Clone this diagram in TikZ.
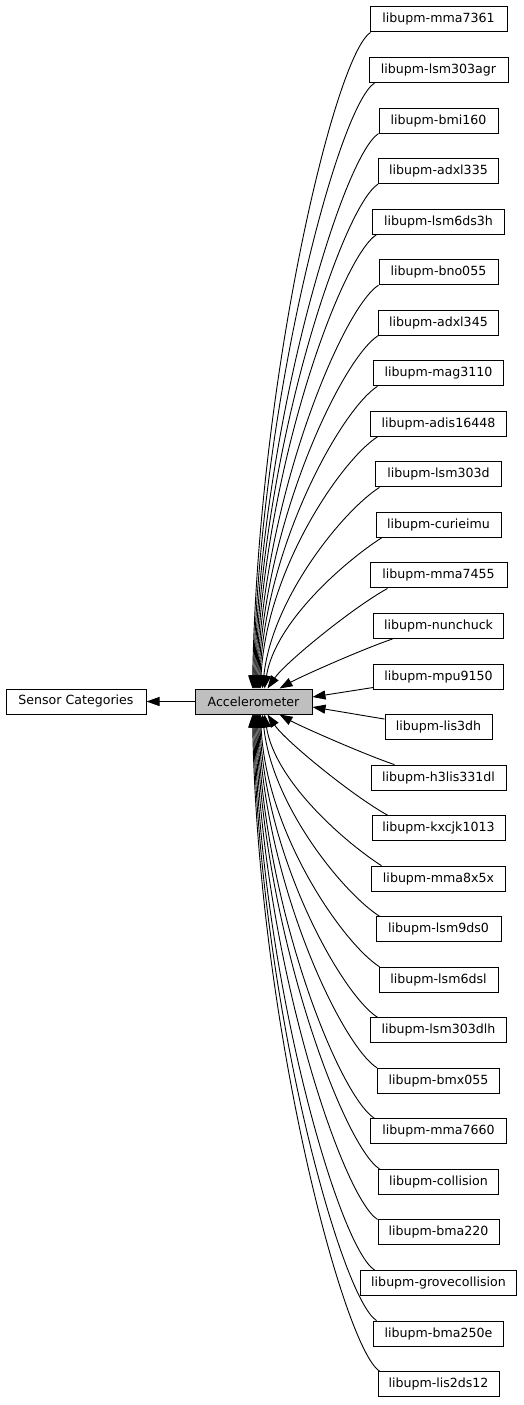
\documentclass[tikz,border=0pt]{standalone}
\usepackage{fontspec}
\setmainfont{DejaVu Sans}
\usetikzlibrary{arrows.meta,calc}
\tikzset{
  nd/.style={draw=black, line width=1pt, fill=white, minimum height=25pt, inner xsep=0pt, inner ysep=0pt, font=\fontsize{12.6}{15}\selectfont, text=black},
  accbox/.style={nd, fill={rgb,255:red,191;green,191;blue,191}},
  edge/.style={draw=black, line width=0.9pt, -{Triangle[length=13pt,width=9pt]}},
}
\begin{document}
\begin{tikzpicture}[x=1pt,y=-1pt]
\useasboundingbox (0,0) rectangle (523,1405);
% left nodes
\node[nd, minimum width=140pt] (sc) at (76,701.5) {Sensor Categories};
\node[accbox, minimum width=117pt] (acc) at (253.5,701.5) {Accelerometer};
% right column
\node[nd, minimum width=137pt] (n1) at (438.5,19.5) {libupm-mma7361};
\node[nd, minimum width=139pt] (n2) at (438.5,70.04) {libupm-lsm303agr};
\node[nd, minimum width=119pt] (n3) at (438.5,120.58) {libupm-bmi160};
\node[nd, minimum width=120pt] (n4) at (438.5,171.12) {libupm-adxl335};
\node[nd, minimum width=132pt] (n5) at (438.5,221.66) {libupm-lsm6ds3h};
\node[nd, minimum width=119pt] (n6) at (438.5,272.2) {libupm-bno055};
\node[nd, minimum width=120pt] (n7) at (438.5,322.74) {libupm-adxl345};
\node[nd, minimum width=130pt] (n8) at (438.5,373.28) {libupm-mag3110};
\node[nd, minimum width=136pt] (n9) at (438.5,423.82) {libupm-adis16448};
\node[nd, minimum width=126pt] (n10) at (438.5,474.36) {libupm-lsm303d};
\node[nd, minimum width=125pt] (n11) at (438.5,524.9) {libupm-curieimu};
\node[nd, minimum width=137pt] (n12) at (438.5,575.44) {libupm-mma7455};
\node[nd, minimum width=130pt] (n13) at (438.5,625.98) {libupm-nunchuck};
\node[nd, minimum width=130pt] (n14) at (438.5,676.52) {libupm-mpu9150};
\node[nd, minimum width=107pt] (n15) at (438.5,727.06) {libupm-lis3dh};
\node[nd, minimum width=135pt] (n16) at (438.5,777.6) {libupm-h3lis331dl};
\node[nd, minimum width=133pt] (n17) at (438.5,828.14) {libupm-kxcjk1013};
\node[nd, minimum width=134pt] (n18) at (438.5,878.68) {libupm-mma8x5x};
\node[nd, minimum width=125pt] (n19) at (438.5,929.22) {libupm-lsm9ds0};
\node[nd, minimum width=119pt] (n20) at (438.5,979.76) {libupm-lsm6dsl};
\node[nd, minimum width=136pt] (n21) at (438.5,1030.3) {libupm-lsm303dlh};
\node[nd, minimum width=122pt] (n22) at (438.5,1080.84) {libupm-bmx055};
\node[nd, minimum width=136pt] (n23) at (438.5,1131.38) {libupm-mma7660};
\node[nd, minimum width=120pt] (n24) at (438.5,1181.92) {libupm-collision};
\node[nd, minimum width=121pt] (n25) at (438.5,1232.46) {libupm-bma220};
\node[nd, minimum width=156pt] (n26) at (438.5,1283) {libupm-grovecollision};
\node[nd, minimum width=130pt] (n27) at (438.5,1333.54) {libupm-bma250e};
\node[nd, minimum width=121pt] (n28) at (438.5,1384.08) {libupm-lis2ds12};
% edges
\draw[edge] (acc.west) -- (sc.east);
% upper edges
\draw[edge] ($(n1.south west)+(1,0)$) .. controls +(-36,23) and (258,380) .. ($(acc.north west)+(58,0)$);
\draw[edge] ($(n2.south west)+(6,0)$) .. controls +(-36,23) and (259,404) .. ($(acc.north west)+(59,0)$);
\draw[edge] ($(n3.south west)+(0,0)$) .. controls +(-36,23) and (260,428) .. ($(acc.north west)+(60,0)$);
\draw[edge] ($(n4.south west)+(0,0)$) .. controls +(-36,23) and (261,451.5) .. ($(acc.north west)+(61,0)$);
\draw[edge] ($(n5.south west)+(4.5,0)$) .. controls +(-36,23) and (262,475.3) .. ($(acc.north west)+(62,0)$);
\draw[edge] ($(n6.south west)+(0,0)$) .. controls +(-36,23) and (263,499) .. ($(acc.north west)+(63,0)$);
\draw[edge] ($(n7.south west)+(0,0)$) .. controls +(-36,23) and (264,522.7) .. ($(acc.north west)+(64,0)$);
\draw[edge] ($(n8.south west)+(4.5,0)$) .. controls +(-36,23) and (265,546.5) .. ($(acc.north west)+(65,0)$);
\draw[edge] ($(n9.south west)+(7.5,0)$) .. controls +(-36,23) and (266,570.2) .. ($(acc.north west)+(66,0)$);
\draw[edge] ($(n10.south west)+(4.5,0)$) .. controls +(-36,23) and (272,598) .. ($(acc.north west)+(68,0)$);
\draw[edge] ($(n11.south west)+(6,0)$) .. controls +(-36,23) and (275,622) .. ($(acc.north west)+(70,0)$);
\draw[edge] ($(n12.south west)+(18,0)$) .. controls +(-36,20) and (285,663) .. ($(acc.north west)+(73,0)$);
\draw[edge] ($(n13.south west)+(19.5,0)$) .. controls +(-31,10.5) and (300,677) .. ($(acc.north west)+(85,0)$);
\draw[edge] ($(n14.south west)+(0,-2)$) -- ($(acc.east)+(0,-4.5)$);
\draw[edge] ($(n15.north west)+(0,5)$) -- ($(acc.east)+(0,5.5)$);
% lower edges
\draw[edge] ($(n16.north west)+(24,0)$) .. controls +(-31,-10.5) and (300,726) .. ($(acc.south west)+(85,0)$);
\draw[edge] ($(n17.north west)+(16,0)$) .. controls +(-36,-20) and (285,740.5) .. ($(acc.south west)+(73,0)$);
\draw[edge] ($(n18.north west)+(10.5,0)$) .. controls +(-36,-23) and (275,781.5) .. ($(acc.south west)+(70,0)$);
\draw[edge] ($(n19.north west)+(4,0)$) .. controls +(-36,-23) and (272,805.5) .. ($(acc.south west)+(68,0)$);
\draw[edge] ($(n20.north west)+(1,0)$) .. controls +(-36,-23) and (266,833.3) .. ($(acc.south west)+(66,0)$);
\draw[edge] ($(n21.north west)+(7.5,0)$) .. controls +(-36,-23) and (265,857) .. ($(acc.south west)+(65,0)$);
\draw[edge] ($(n22.north west)+(0,0)$) .. controls +(-36,-23) and (264,880.8) .. ($(acc.south west)+(64,0)$);
\draw[edge] ($(n23.north west)+(4.5,0)$) .. controls +(-36,-23) and (263,904.5) .. ($(acc.south west)+(63,0)$);
\draw[edge] ($(n24.north west)+(1.5,0)$) .. controls +(-36,-23) and (262,928.2) .. ($(acc.south west)+(62,0)$);
\draw[edge] ($(n25.north west)+(0,0)$) .. controls +(-36,-23) and (261,952) .. ($(acc.south west)+(61,0)$);
\draw[edge] ($(n26.north west)+(14.5,0)$) .. controls +(-36,-23) and (260,975.5) .. ($(acc.south west)+(60,0)$);
\draw[edge] ($(n27.north west)+(3.5,0)$) .. controls +(-36,-23) and (259,999.5) .. ($(acc.south west)+(59,0)$);
\draw[edge] ($(n28.north west)+(2,0)$) .. controls +(-36,-23) and (258,1023.5) .. ($(acc.south west)+(58,0)$);
\end{tikzpicture}
\end{document}
